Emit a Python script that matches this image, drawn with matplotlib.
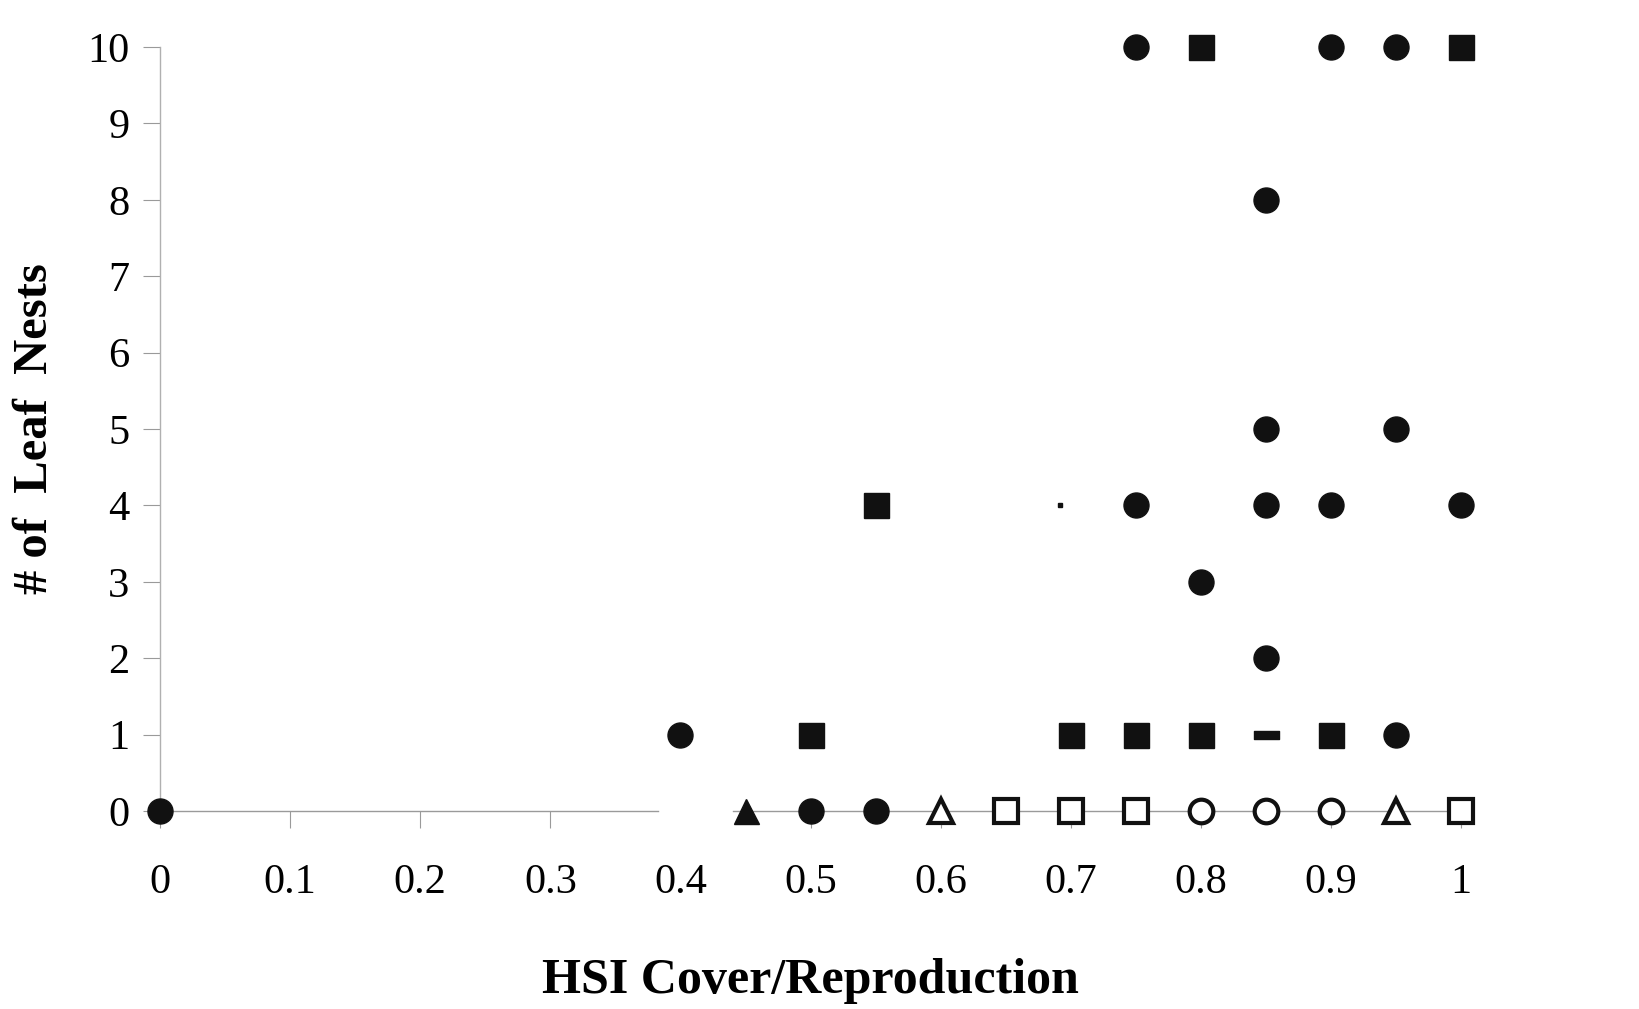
import matplotlib
matplotlib.use("Agg")
import matplotlib.pyplot as plt
from matplotlib.path import Path

plt.rcParams['font.family'] = ['Liberation Serif', 'DejaVu Serif']

# Filled circles
fc_x = [0, 0.4, 0.5, 0.55, 0.75, 0.9, 0.95, 0.85, 0.85, 0.95, 0.75, 0.85, 0.9, 1.0, 0.8, 0.85, 0.95]
fc_y = [0, 1, 0, 0, 10, 10, 10, 8, 5, 5, 4, 4, 4, 4, 3, 2, 1]
# Filled squares
fs_x = [0.8, 1.0, 0.55, 0.5, 0.7, 0.75, 0.8, 0.9]
fs_y = [10, 10, 4, 1, 1, 1, 1, 1]
# Filled triangle
ft_x = [0.45]
ft_y = [0]
# Open triangles
ot_x = [0.6, 0.95]
ot_y = [0, 0]
# Open squares
os_x = [0.65, 0.7, 0.75, 1.0]
os_y = [0, 0, 0, 0]
# Open circles
oc_x = [0.8, 0.85, 0.9]
oc_y = [0, 0, 0]
# Flat bar marker
bar_x = [0.85]
bar_y = [1]
# Small speck
dot_x = [0.692]
dot_y = [4.0]

x_ticks = [0, 0.1, 0.2, 0.3, 0.4, 0.5, 0.6, 0.7, 0.8, 0.9, 1]
x_tick_labels = ['0', '0.1', '0.2', '0.3', '0.4', '0.5', '0.6', '0.7', '0.8', '0.9', '1']
y_ticks = list(range(0, 11))

fig = plt.figure(figsize=(16.4, 10.09), dpi=100)
ax = fig.add_axes([0.0976, 0.1962, 0.7933, 0.7572])
ax.set_xlim(0, 1)
ax.set_ylim(0, 10)

axis_col = '#9a9a9a'
for s in ['top', 'right', 'bottom']:
    ax.spines[s].set_visible(False)
ax.spines['left'].set_color('#b0b0b0')
ax.spines['left'].set_linewidth(1.0)

# Horizontal axis line with a break near 0.4
for seg in [(0.0, 0.383), (0.44, 1.005)]:
    ax.plot(seg, [0, 0], color=axis_col, lw=1.0, zorder=1, clip_on=False)

ax.set_xticks(x_ticks)
ax.set_xticklabels(x_tick_labels)
ax.set_yticks(y_ticks)
ax.tick_params(axis='x', direction='out', length=12, width=0.8, color=axis_col,
               labelsize=30.5, pad=26)
ax.tick_params(axis='y', direction='out', length=12, width=0.8, color=axis_col,
               labelsize=30.5, pad=10)
# no tick mark inside the axis break
ax.xaxis.get_major_ticks()[4].tick1line.set_visible(False)

k = '#111111'
ms = 18
common = dict(linestyle='none', clip_on=False, zorder=3)
ax.plot(fc_x, fc_y, marker='o', ms=ms, mfc=k, mec=k, **common)
ax.plot(fs_x, fs_y, marker='s', ms=ms, mfc=k, mec=k, **common)
ax.plot(ft_x, ft_y, marker='^', ms=ms, mfc=k, mec=k, **common)
ax.plot(ot_x, ot_y, marker='^', ms=ms - 1, mfc='white', mec=k, mew=3, **common)
ax.plot(os_x, os_y, marker='s', ms=ms - 1, mfc='white', mec=k, mew=3, **common)
ax.plot(oc_x, oc_y, marker='o', ms=ms - 1, mfc='white', mec=k, mew=3, **common)

bar_path = Path([(-1, -0.28), (1, -0.28), (1, 0.28), (-1, 0.28), (-1, -0.28)],
                [Path.MOVETO, Path.LINETO, Path.LINETO, Path.LINETO, Path.CLOSEPOLY])
ax.plot(bar_x, bar_y, marker=bar_path, ms=18, mfc=k, mec=k, **common)
ax.plot(dot_x, dot_y, marker='s', ms=2.5, mfc=k, mec=k, **common)

ax.set_xlabel('HSI Cover/Reproduction', fontsize=36, fontweight='bold', labelpad=40)
ax.set_ylabel('# of  Leaf  Nests', fontsize=35, fontweight='bold', labelpad=22)

fig.savefig('out.png', dpi=100, facecolor='white')
